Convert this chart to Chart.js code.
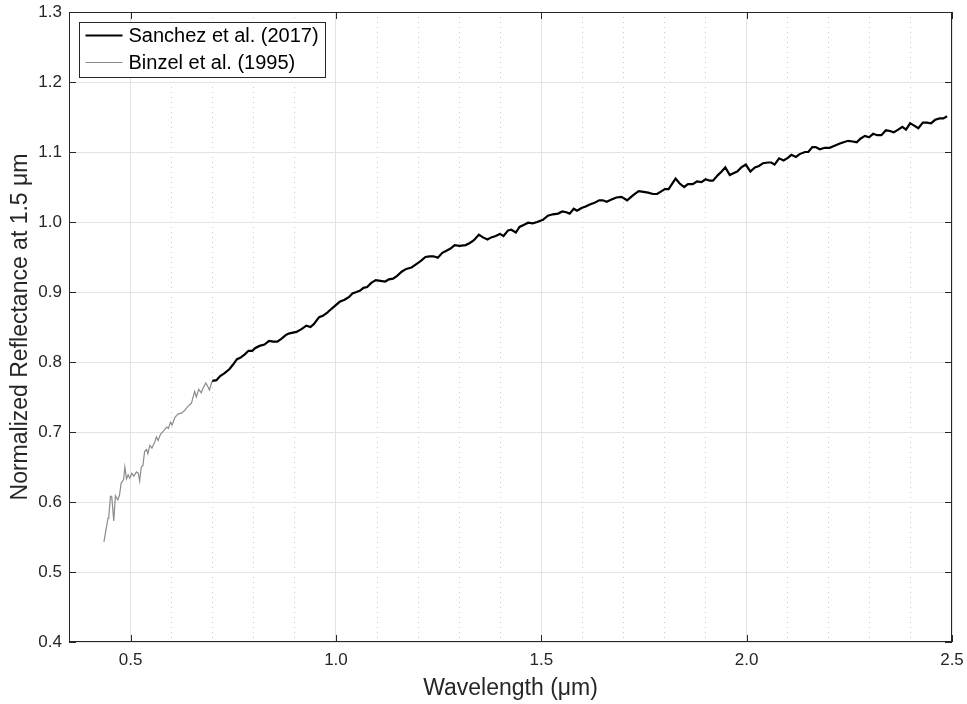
<!DOCTYPE html>
<html><head><meta charset="utf-8">
<script src="https://cdn.jsdelivr.net/npm/chart.js@4.4.0/dist/chart.umd.min.js"></script>
<style>html,body{margin:0;padding:0;background:#fff;}#wrap{width:967px;height:704px;}</style>
</head><body><div id="wrap"><canvas id="c" width="967" height="704"></canvas></div>
<script>
const seriesLabels = ['Sanchez et al. (2017)', 'Binzel et al. (1995)'];
const xTickValues = [0.5, 1.0, 1.5, 2.0, 2.5];
const yTickValues = [0.4, 0.5, 0.6, 0.7, 0.8, 0.9, 1.0, 1.1, 1.2, 1.3];
const xAxisTitle = 'Wavelength (\u03bcm)';
const yAxisTitle = 'Normalized Reflectance at 1.5 \u03bcm';

const sanchezWavelength = [0.699,0.709,0.718,0.729,0.741,0.749,0.759,0.767,0.778,0.787,0.796,0.804,0.814,0.826,0.837,0.847,0.857,0.867,0.879,
0.887,0.904,0.916,0.928,0.938,0.946,0.959,0.968,0.978,0.989,0.999,1.009,1.021,1.032,1.040,1.050,1.059,1.067,1.076,1.086,1.097,1.108,1.120,1.129,1.139,1.149,1.160,1.171,1.184,1.194,1.206,1.218,1.228,
1.238,1.248,1.259,1.269,1.279,1.289,1.301,1.316,1.326,1.336,1.348,1.358,1.369,1.378,1.389,1.399,1.408,1.419,1.427,1.438,1.447,1.458,1.468,1.479,1.490,1.504,1.516,1.528,1.541,1.551,1.561,1.569,
1.579,1.587,1.598,1.608,1.618,1.628,1.641,1.650,1.659,1.671,1.683,1.695,1.709,1.723,1.737,1.749,1.760,1.772,1.782,1.790,1.801,1.810,1.818,1.827,1.837,1.848,1.857,1.869,1.879,1.890,1.900,1.910,
1.918,1.930,1.939,1.948,1.959,1.969,1.977,1.987,1.998,2.009,2.020,2.030,2.040,2.052,2.060,2.068,2.079,2.090,2.101,2.109,2.120,2.129,2.142,2.150,2.160,2.168,2.178,2.190,2.202,2.214,
2.227,2.236,2.247,2.258,2.268,2.277,2.288,2.298,2.308,2.318,2.328,2.339,2.349,2.358,2.369,2.379,2.388,2.398,2.407,2.418,2.429,2.439,2.449,2.459,2.470,2.479,2.488];
const sanchezReflectance = [0.773,0.774,0.780,0.784,0.790,0.796,0.804,0.806,0.811,0.816,0.816,0.820,0.823,0.825,0.830,0.829,0.829,0.833,0.839,
0.841,0.843,0.847,0.852,0.850,0.854,0.864,0.866,0.870,0.876,0.881,0.886,0.889,0.893,0.898,0.900,0.902,0.906,0.907,0.913,0.917,0.916,0.915,0.918,0.919,0.923,0.929,0.933,0.935,0.939,0.944,0.950,0.951,
0.951,0.949,0.956,0.959,0.962,0.967,0.966,0.967,0.970,0.974,0.982,0.978,0.975,0.978,0.980,0.983,0.980,0.988,0.989,0.985,0.993,0.996,0.999,0.998,1.000,1.003,1.009,1.011,1.012,1.015,1.014,1.012,
1.019,1.016,1.020,1.022,1.025,1.027,1.031,1.031,1.029,1.032,1.035,1.036,1.031,1.038,1.044,1.043,1.042,1.040,1.040,1.043,1.047,1.047,1.054,1.062,1.055,1.050,1.054,1.054,1.058,1.057,1.061,1.059,
1.059,1.067,1.072,1.078,1.067,1.070,1.072,1.078,1.082,1.072,1.078,1.080,1.084,1.085,1.085,1.082,1.091,1.088,1.092,1.096,1.093,1.097,1.100,1.100,1.107,1.107,1.104,1.106,1.106,1.109,
1.112,1.114,1.116,1.115,1.114,1.119,1.123,1.121,1.126,1.124,1.124,1.131,1.130,1.128,1.132,1.136,1.132,1.141,1.138,1.134,1.142,1.142,1.141,1.146,1.148,1.148,1.151];

const binzelWavelength = [0.435,0.445,0.447,0.451,0.454,0.459,0.463,0.469,0.473,0.477,0.483,0.486,0.490,0.494,0.498,0.503,0.508,0.514,0.519,0.522,0.526,0.530,0.534,0.539,0.542,0.547,0.552,0.559,0.563,0.567,0.573,0.581,0.588,0.592,0.597,0.601,0.608,0.616,0.624,0.632,0.640,0.648,0.656,0.660,0.666,0.672,0.676,0.683,0.688,0.692,0.697,0.700];
const binzelReflectance = [0.543,0.577,0.580,0.608,0.608,0.573,0.609,0.603,0.610,0.627,0.632,0.650,0.633,0.639,0.634,0.641,0.637,0.643,0.641,0.630,0.650,0.652,0.672,0.675,0.669,0.681,0.677,0.686,0.693,0.688,0.697,0.702,0.707,0.705,0.714,0.710,0.721,0.726,0.727,0.731,0.737,0.741,0.758,0.750,0.761,0.756,0.762,0.770,0.765,0.760,0.770,0.774];

const FONT = '"Liberation Sans", Arial, Helvetica, sans-serif';
const TEXT = '#262626';
const isMajorX = v => xTickValues.some(t => Math.abs(t - v) < 1e-6);
const toPts = (xs, ys) => xs.map((x, i) => ({x: x, y: ys[i]}));

const frameAndLegend = {
  id: 'frameAndLegend',
  afterDraw(chart) {
    const ctx = chart.ctx, ca = chart.chartArea;
    const xs = chart.scales.x, ys = chart.scales.y;
    ctx.save();
    ctx.strokeStyle = TEXT; ctx.lineWidth = 1;
    ctx.strokeRect(Math.round(ca.left) + 0.5, Math.round(ca.top) + 0.5, Math.round(ca.right - ca.left) - 1, Math.round(ca.bottom - ca.top) - 1);
    const tl = 7;
    ctx.beginPath();
    xTickValues.forEach(v => {
      const px = Math.round(xs.getPixelForValue(v)) + 0.5;
      ctx.moveTo(px, ca.bottom); ctx.lineTo(px, ca.bottom - tl);
      ctx.moveTo(px, ca.top); ctx.lineTo(px, ca.top + tl);
    });
    yTickValues.forEach(v => {
      const py = Math.round(ys.getPixelForValue(v)) + 0.5;
      ctx.moveTo(ca.left, py); ctx.lineTo(ca.left + tl, py);
      ctx.moveTo(ca.right, py); ctx.lineTo(ca.right - tl, py);
    });
    ctx.stroke();
    const ds = chart.data.datasets;
    ctx.font = '20px ' + FONT;
    const textW = Math.max(...ds.map(d => ctx.measureText(d.label).width));
    const bx = Math.round(ca.left) + 10.5, by = Math.round(ca.top) + 10.5;
    const lineLen = 37, gap = 6, rowH = 27;
    const bw = Math.round(gap + lineLen + 6 + textW + 7), bh = 55;
    ctx.fillStyle = '#ffffff';
    ctx.fillRect(bx, by, bw, bh);
    ctx.strokeStyle = TEXT; ctx.lineWidth = 1;
    ctx.strokeRect(bx, by, bw, bh);
    ds.forEach((d, i) => {
      const cy = by + 13 + i * rowH;
      ctx.beginPath();
      ctx.strokeStyle = d.borderColor; ctx.lineWidth = d.borderWidth;
      ctx.moveTo(bx + gap, cy); ctx.lineTo(bx + gap + lineLen, cy);
      ctx.stroke();
      ctx.fillStyle = '#000000';
      ctx.textBaseline = 'middle'; ctx.textAlign = 'left';
      ctx.fillText(d.label, bx + gap + lineLen + 6, cy + 1);
    });
    ctx.restore();
  }
};

new Chart(document.getElementById('c'), {
  type: 'scatter',
  data: {
    datasets: [
      {label: seriesLabels[0], data: toPts(sanchezWavelength, sanchezReflectance), showLine: true, borderColor: '#000000', borderWidth: 2.2, pointRadius: 0, tension: 0, order: 1},
      {label: seriesLabels[1], data: toPts(binzelWavelength, binzelReflectance), showLine: true, borderColor: '#8c8c8c', borderWidth: 1.2, pointRadius: 0, tension: 0, order: 2}
    ]
  },
  options: {
    responsive: false,
    devicePixelRatio: 1,
    animation: false,
    layout: {padding: {left: 0, right: 15, top: 12, bottom: 0}},
    plugins: {legend: {display: false}, tooltip: {enabled: false}},
    scales: {
      x: {
        type: 'linear', min: 0.35, max: 2.5,
        afterFit(s) { s.height = 62; s.paddingLeft = 0; s.paddingRight = 0; },
        ticks: {
          stepSize: 0.1, autoSkip: false, maxRotation: 0, padding: 8,
          color: TEXT, font: {family: FONT, size: 17},
          callback: v => isMajorX(v) ? v.toFixed(1) : ''
        },
        grid: {
          drawTicks: false,
          color: c => {
            if (!c.tick) return '#e3e3e3';
            const v = c.tick.value;
            if (Math.abs(v - 0.35) < 1e-6) return 'rgba(0,0,0,0)';
            return isMajorX(v) ? '#e3e3e3' : '#cccccc';
          },
          lineWidth: 1
        },
        border: {
          display: false,
          dash: c => (c.tick && !isMajorX(c.tick.value)) ? [1, 4] : []
        },
        title: {display: true, text: xAxisTitle, color: TEXT, font: {family: FONT, size: 23}, padding: {top: 0, bottom: 2}}
      },
      y: {
        type: 'linear', min: 0.4, max: 1.3,
        afterFit(s) { s.width = 69; s.paddingTop = 0; s.paddingBottom = 0; },
        ticks: {
          stepSize: 0.1, padding: 7, color: TEXT, font: {family: FONT, size: 17},
          callback: v => v.toFixed(1)
        },
        grid: {drawTicks: false, color: '#e3e3e3', lineWidth: 1},
        border: {display: false},
        title: {display: true, text: yAxisTitle, color: TEXT, font: {family: FONT, size: 23}, padding: {top: 7, bottom: 0}}
      }
    }
  },
  plugins: [frameAndLegend]
});
</script>
</body></html>
